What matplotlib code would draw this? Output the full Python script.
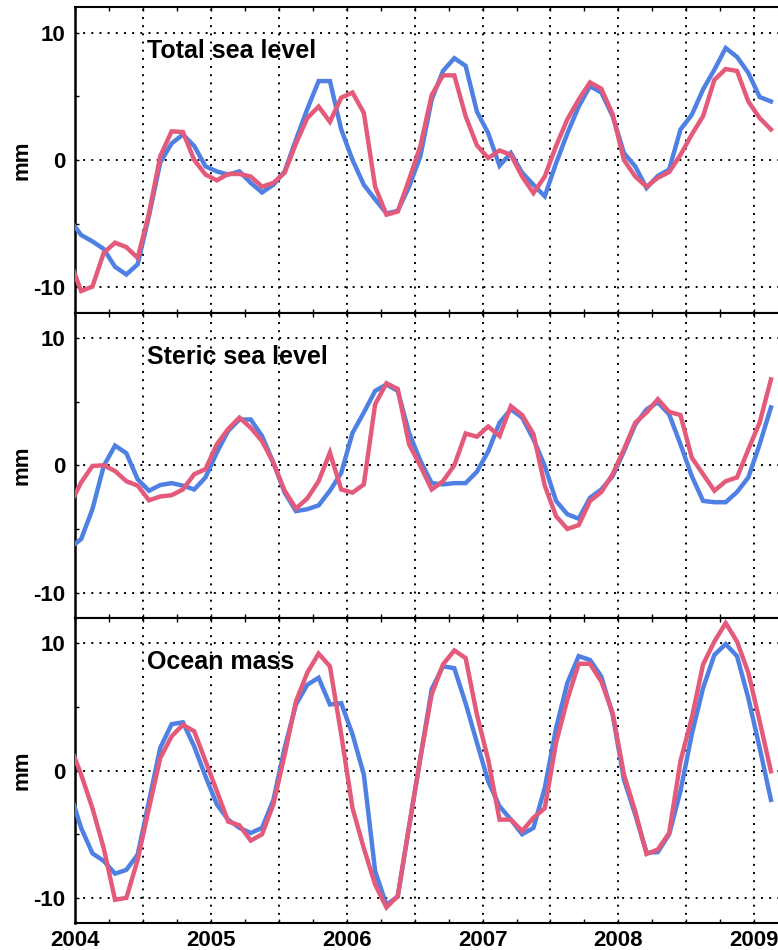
import numpy as np
import matplotlib
matplotlib.use('Agg')
import matplotlib.pyplot as plt
from matplotlib.ticker import MultipleLocator

plt.rcParams['font.family'] = ['Liberation Sans', 'DejaVu Sans']
plt.rcParams['font.weight'] = 'bold'
plt.rcParams['axes.unicode_minus'] = False

# monthly values, mid-month, Dec 2003 .. Feb 2009
months = 2004 + (np.arange(63) - 0.5) / 12

total_blue = [-4.7, -5.9, -6.4, -7.0, -8.4, -9.0, -8.2, -4.4, -0.2, 1.3, 2.0, 1.1,
              -0.5, -0.9, -1.15, -0.9, -1.8, -2.55, -1.95, -0.9, 1.6, 4.0, 6.2, 6.2,
              2.4, 0.0, -1.95, -3.1, -4.2, -4.0, -2.1, 0.3, 4.75, 7.0, 8.0, 7.4,
              3.8, 2.1, -0.45, 0.55, -1.0, -1.95, -2.85, -0.25, 2.1, 4.2, 5.8, 5.3,
              3.45, 0.55, -0.5, -2.2, -1.25, -0.75, 2.4, 3.55, 5.55, 7.1, 8.8, 8.1,
              6.85, 4.95, 4.6]
total_red = [-7.9, -10.3, -9.95, -7.3, -6.5, -6.85, -7.7, -4.2, 0.3, 2.25, 2.2, 0.0,
             -1.15, -1.6, -1.1, -1.1, -1.3, -2.1, -1.8, -1.0, 1.3, 3.3, 4.2, 3.0,
             4.9, 5.3, 3.7, -2.1, -4.3, -4.05, -1.55, 1.1, 5.1, 6.65, 6.65, 3.45,
             1.15, 0.15, 0.75, 0.4, -1.3, -2.6, -1.3, 1.1, 3.2, 4.75, 6.1, 5.6,
             3.6, 0.0, -1.3, -2.1, -1.4, -0.95, 0.4, 2.0, 3.45, 6.3, 7.15, 7.0,
             4.6, 3.3, 2.4]

steric_blue = [-6.5, -5.8, -3.45, -0.05, 1.55, 0.95, -1.1, -2.0, -1.55, -1.4, -1.6, -1.9,
               -0.95, 1.0, 2.7, 3.6, 3.6, 2.3, 0.2, -2.15, -3.6, -3.45, -3.15, -2.0,
               -0.6, 2.55, 4.15, 5.85, 6.35, 5.85, 2.55, 0.35, -1.4, -1.5, -1.4, -1.4,
               -0.5, 1.1, 3.35, 4.4, 3.75, 2.05, -0.05, -2.8, -3.85, -4.2, -2.55, -1.9,
               -0.85, 1.1, 3.2, 4.4, 4.95, 4.0, 1.65, -0.85, -2.8, -2.9, -2.9, -2.1,
               -0.95, 1.65, 4.55]
steric_red = [-3.1, -1.35, -0.05, 0.0, -0.45, -1.25, -1.6, -2.75, -2.45, -2.35, -1.9, -0.7,
              -0.3, 1.65, 2.85, 3.75, 2.95, 1.9, 0.2, -2.0, -3.4, -2.6, -1.25, 1.0,
              -1.9, -2.15, -1.5, 4.8, 6.45, 6.0, 1.65, -0.05, -1.9, -1.25, 0.0, 2.5,
              2.25, 3.05, 2.3, 4.65, 3.95, 2.45, -1.6, -4.0, -5.0, -4.7, -2.8, -2.1,
              -0.7, 1.25, 3.35, 4.15, 5.2, 4.2, 3.95, 0.6, -0.7, -2.0, -1.25, -0.95,
              1.25, 3.35, 6.75]

mass_blue = [-1.7, -4.5, -6.5, -7.1, -8.1, -7.8, -6.6, -2.4, 1.8, 3.65, 3.8, 1.9,
             -0.45, -2.65, -3.85, -4.5, -4.9, -4.5, -2.3, 1.8, 5.2, 6.75, 7.3, 5.2,
             5.3, 2.85, -0.3, -7.9, -10.55, -9.9, -4.4, 1.0, 6.4, 8.2, 8.05, 5.3,
             2.2, -0.85, -2.8, -3.85, -5.0, -4.5, -1.35, 3.35, 6.9, 9.0, 8.7, 7.4,
             4.4, -0.7, -3.45, -6.45, -6.4, -5.0, -1.6, 2.85, 6.5, 9.1, 9.95, 9.0,
             5.7, 1.8, -2.3]
mass_red = [2.0, -0.3, -2.95, -6.1, -10.15, -10.0, -7.0, -2.95, 1.0, 2.7, 3.6, 3.1,
            0.75, -1.6, -4.0, -4.3, -5.5, -5.0, -2.65, 1.25, 5.45, 7.7, 9.2, 8.2,
            2.85, -2.95, -6.1, -8.95, -10.75, -9.85, -4.4, 1.0, 6.0, 8.35, 9.45, 8.85,
            4.4, 0.85, -3.85, -3.85, -4.75, -3.7, -2.95, 2.2, 5.6, 8.4, 8.4, 7.0,
            4.55, -0.3, -3.2, -6.55, -6.2, -4.9, 0.75, 4.15, 8.35, 10.15, 11.6, 10.15,
            7.7, 3.9, -0.05]

titles = ['Total sea level', 'Steric sea level', 'Ocean mass']
year_labels = ['2004', '2005', '2006', '2007', '2008', '2009']

blue = '#4f80e3'
red = '#e35a7a'

fig = plt.figure(figsize=(7.78, 9.5), dpi=100)
left, bottom, width, height = 0.097, 0.0281, 0.903, 0.3214

panels = [(total_blue, total_red), (steric_blue, steric_red), (mass_blue, mass_red)]
for i, (b, r) in enumerate(panels):
    ax = fig.add_axes([left, bottom + (2 - i) * height, width, height])
    for yv in [-10, 0, 10]:
        ax.axhline(yv, color='black', lw=1.4, ls=(0, (1, 3.2)), zorder=1)
    for xv in np.arange(2004.5, 2009.2, 0.5):
        ax.axvline(xv, color='black', lw=1.4, ls=(0, (1, 3.2)), zorder=1)
    ax.plot(months, b, color=blue, lw=3.2, zorder=3, solid_joinstyle='miter')
    ax.plot(months, r, color=red, lw=3.2, zorder=4, solid_joinstyle='miter')
    ax.set_xlim(2004, 2009.177)
    ax.set_ylim(-12, 12)
    ax.text(2004.53, 8.0, titles[i], fontsize=18, fontweight='bold', va='baseline')
    ax.set_ylabel('mm', fontsize=16, fontweight='bold', labelpad=1)
    ax.set_yticks([-10, 0, 10])
    ax.yaxis.set_minor_locator(MultipleLocator(5))
    ax.set_xticks(np.arange(2004, 2010))
    ax.xaxis.set_minor_locator(MultipleLocator(0.25))
    ax.tick_params(which='both', direction='in', length=3, width=1,
                   top=True, right=False, labelsize=16, pad=7)
    ax.spines['right'].set_visible(False)
    for s in ['top', 'bottom']:
        ax.spines[s].set_linewidth(1.5)
    ax.spines['left'].set_linewidth(1.8)
    if i == 2:
        ax.set_xticklabels(year_labels)
        ax.tick_params(axis='x', pad=5)
    else:
        ax.set_xticklabels([])

fig.savefig('out.png', dpi=100)
